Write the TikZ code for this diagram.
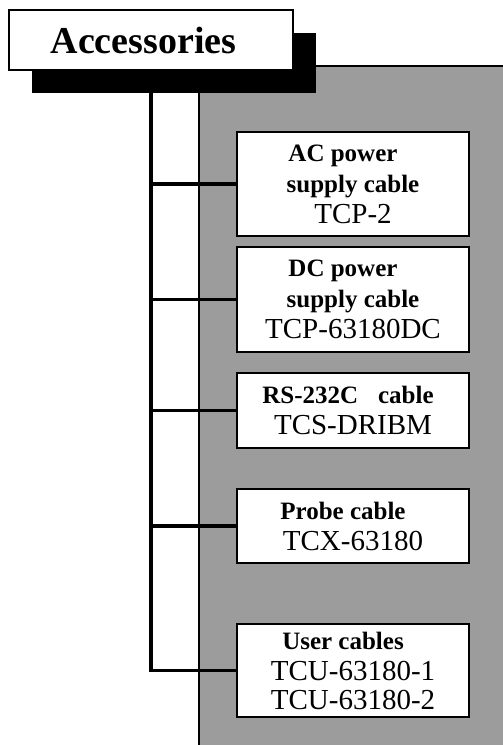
\documentclass[tikz,border=0pt]{standalone}
\usepackage{fontspec}
\setmainfont{Liberation Serif}
\usetikzlibrary{positioning, shadows}
\definecolor{panelGrey}{HTML}{9C9C9C}
\newcommand{\headline}[2][10pt]{{\fontsize{12.5pt}{15.5pt}\selectfont\bfseries #2\hspace*{#1}}}

\begin{document}
\begin{tikzpicture}[x=0.5pt, y=-0.5pt,
    cablebox/.style={draw, line width=1pt, fill=white, minimum width=116pt,
                     inner sep=0pt, align=center, font=\fontsize{14.5pt}{15.5pt}\selectfont},
    titlebox/.style={draw, line width=1pt, fill=white, minimum width=142pt,
                     minimum height=30pt, inner sep=0pt, font=\fontsize{19pt}{22pt}\selectfont\bfseries,
                     drop shadow={shadow xshift=11.5pt, shadow yshift=-11.5pt, fill=black, opacity=1}},
    trunk/.style={line width=1.6pt}]
    \useasboundingbox (0,0) rectangle (503,745);
    % grey panel behind the cables
    \fill[panelGrey] (199,66) rectangle (503,745);
    \draw[line width=0.9pt] (199,745) -- (199,66) -- (503,66);
    \node[titlebox] (title) at (151,40) {Accessories\hspace*{7.5pt}};
    \node[cablebox, minimum height=52pt] (ac) at (353,184)
      {\headline{AC power}\\\headline{supply cable}\\TCP-2};
    \node[cablebox, minimum height=52.5pt, below=4.5pt of ac] (dc)
      {\headline{DC power}\\\headline{supply cable}\\TCP-63180DC};
    \node[cablebox, minimum height=37.5pt, below=9.5pt of dc] (rs)
      {\headline[5pt]{RS-232C\hspace{10pt}cable}\\TCS-DRIBM};
    \node[cablebox, minimum height=37pt, below=19.5pt of rs] (probe)
      {\headline{Probe cable}\\TCX-63180};
    \node[cablebox, minimum height=46.5pt, below=29.5pt of probe] (user)
      {\headline{User cables}\\TCU-63180-1\\[-1pt]TCU-63180-2};
    \draw[trunk] (title.south) |- (user.west);
    \foreach \b in {ac, dc, rs, probe}
      \draw[trunk] (title.south |- \b.west) -- (\b.west);
\end{tikzpicture}
\end{document}
